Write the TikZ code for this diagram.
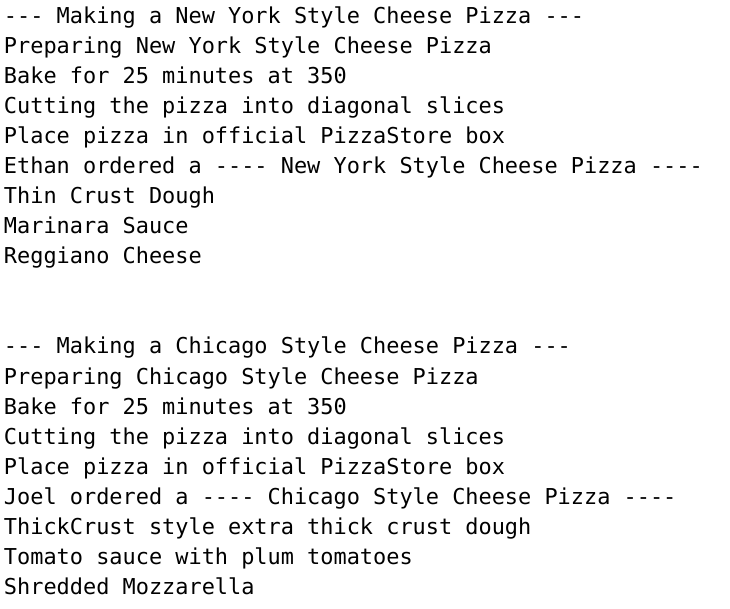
\documentclass[tikz,border=0pt]{standalone}
\usepackage{fontspec}
\setmonofont{DejaVu Sans Mono}
\usepackage{tikz}
\newcommand*{\fs}{21.9}

\begin{document}
\begin{tikzpicture}[
   x=1pt, y=1pt,
   outline/.style={anchor=base west, inner sep=0, outer sep=0, text=black,
                   font=\ttfamily\fontsize{\fs}{\fs}\selectfont}
  ]

  % Line Spacing
  \pgfmathsetmacro{\d}{30.05}
  \pgfmathsetmacro{\t}{584.6}

  \useasboundingbox (0, 0) rectangle (730, 608);

  % New York order
  \foreach \T [count=\i] in {--- Making a New York Style Cheese Pizza ---,
      Preparing New York Style Cheese Pizza,
      Bake for 25 minutes at 350,
      Cutting the pizza into diagonal slices,
      Place pizza in official PizzaStore box,
      Ethan ordered a ---- New York Style Cheese Pizza ----,
      Thin Crust Dough,
      Marinara Sauce,
      Reggiano Cheese} {
    \node (ny\i) at (4, \t - \i * \d + \d) [outline] {\T};
  }

  % Chicago order
  \foreach \T [count=\i] in {--- Making a Chicago Style Cheese Pizza ---,
      Preparing Chicago Style Cheese Pizza,
      Bake for 25 minutes at 350,
      Cutting the pizza into diagonal slices,
      Place pizza in official PizzaStore box,
      Joel ordered a ---- Chicago Style Cheese Pizza ----,
      ThickCrust style extra thick crust dough,
      Tomato sauce with plum tomatoes,
      Shredded Mozzarella} {
    \node (chi\i) at (4, \t - \i * \d - 10 * \d) [outline] {\T};
  }

\end{tikzpicture}
\end{document}
